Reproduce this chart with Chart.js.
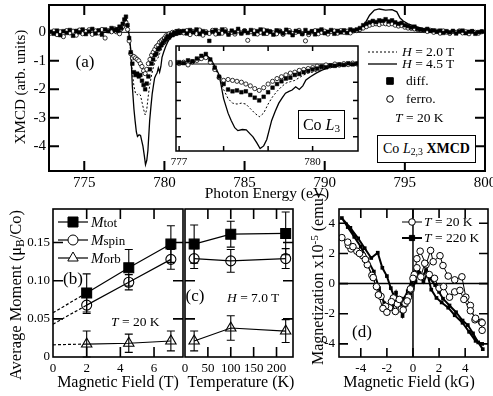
<!DOCTYPE html>
<html>
<head>
<meta charset="utf-8">
<script src="https://cdn.jsdelivr.net/npm/chart.js"></script>
<style>
  html, body { margin: 0; padding: 0; background: #fff; }
  #fig { position: relative; width: 493px; height: 396px; overflow: hidden; font-family: 'Liberation Serif', serif; color: #000; }
  #fig canvas { position: absolute; left: 0; top: 0; }
  .t { position: absolute; white-space: nowrap; line-height: 1; transform: translateY(-50%); }
  .c { transform: translate(-50%, -50%); }
  .r { transform: translate(-50%, -50%) rotate(-90deg); }
  .box { position: absolute; box-sizing: border-box; border: 1.5px solid #000; background: #fff;
         display: flex; align-items: center; justify-content: center; white-space: nowrap; line-height: 1; }
  sub, sup { font-size: 70%; line-height: 0; position: relative; vertical-align: baseline; }
  sub { top: 0.3em; }
  sup { top: -0.45em; }
  .s { font-size: 13px; }
</style>
</head>
<body>
<div id="fig">
  <canvas id="c-a" width="493" height="396"></canvas>
  <canvas id="c-inset" width="493" height="396"></canvas>
  <canvas id="c-b" width="493" height="396"></canvas>
  <canvas id="c-c" width="493" height="396"></canvas>
  <canvas id="c-d" width="493" height="396"></canvas>

  <!-- panel (a) -->
  <div class="t r" style="left:20px;top:87px;font-size:15px">XMCD (arb. units)</div>
  <div class="t c" style="left:267px;top:193px;font-size:15.5px">Photon Energy (eV)</div>
  <div class="t c" style="left:85px;top:61px;font-size:17px">(a)</div>
  <div class="t" style="left:402px;top:52px;font-size:13.5px"><i>H</i> = 2.0 T</div>
  <div class="t" style="left:402px;top:64px;font-size:13.5px"><i>H</i> = 4.5 T</div>
  <div class="t" style="left:406px;top:81px;font-size:13.5px">diff.</div>
  <div class="t" style="left:406px;top:99px;font-size:13.5px">ferro.</div>
  <div class="t" style="left:395px;top:118px;font-size:13.5px"><i>T</i> = 20 K</div>
  <div class="box" style="left:377px;top:135px;width:99px;height:28px;font-size:14px">Co&nbsp;<i>L</i><sub>2,3</sub>&nbsp;<b>XMCD</b></div>
  <div class="box" style="left:298px;top:110px;width:47px;height:29px;font-size:16px">Co&nbsp;<i>L</i><sub>3</sub></div>

  <!-- panel (b) -->
  <div class="t r" style="left:16px;top:295px;font-size:16.5px">Average Moment (μ<sub>B</sub>/Co)</div>
  <div class="t c" style="left:118px;top:382px;font-size:16px">Magnetic Field (T)</div>
  <div class="t c" style="left:73px;top:278px;font-size:17px">(b)</div>
  <div class="t" style="left:91px;top:222px;font-size:15px"><i>M</i><span class="s">tot</span></div>
  <div class="t" style="left:91px;top:240px;font-size:15px"><i>M</i><span class="s">spin</span></div>
  <div class="t" style="left:91px;top:258px;font-size:15px"><i>M</i><span class="s">orb</span></div>
  <div class="t" style="left:111px;top:322px;font-size:13.5px"><i>T</i> = 20 K</div>

  <!-- panel (c) -->
  <div class="t c" style="left:241px;top:382px;font-size:16px">Temperature (K)</div>
  <div class="t c" style="left:195px;top:295px;font-size:17px">(c)</div>
  <div class="t" style="left:227px;top:298px;font-size:13.5px"><i>H</i> = 7.0 T</div>

  <!-- panel (d) -->
  <div class="t r" style="left:318px;top:279px;font-size:16px">Magnetization x10<sup>-5</sup> (emu)</div>
  <div class="t c" style="left:409px;top:382px;font-size:16px">Magnetic Field (kG)</div>
  <div class="t c" style="left:362px;top:331px;font-size:17px">(d)</div>
  <div class="t" style="left:424px;top:222px;font-size:13.5px"><i>T</i> = 20 K</div>
  <div class="t" style="left:424px;top:238px;font-size:13.5px"><i>T</i> = 220 K</div>
</div>

<script>
// ── Panel (a): XMCD spectra ──────────────────────────────────────
const solidE = [772.8, 774, 775, 776, 776.5, 777, 777.3, 777.5, 777.6, 777.7, 777.8, 777.9, 778.0, 778.1, 778.17,
  778.25, 778.32, 778.42, 778.51, 778.6, 778.66, 778.75, 778.82, 778.9, 778.97, 779.08, 779.16, 779.24, 779.32,
  779.39, 779.47, 779.54, 779.62, 779.7, 779.78, 779.85, 779.95, 780.08, 780.2, 780.31, 780.45, 780.62, 780.8,
  781.0, 781.5, 782, 784, 786, 788, 790, 791, 791.8, 792.2, 792.5, 792.8, 793.1, 793.4, 793.8, 794.2, 794.5,
  794.7, 794.9, 795.2, 795.6, 796.0, 796.5, 797, 798, 799, 800];
const solidV = [0, 0, 0, 0, 0, 0, 0.05, 0.35, 0.5, 0.3, -0.1, -0.6, -1.9, -2.7, -3.1,
  -3.5, -3.66, -3.6, -3.62, -3.85, -4.0, -4.35, -4.65, -4.5, -4.15, -3.1, -2.6, -2.15, -1.85,
  -1.6, -1.5, -1.43, -1.25, -1.4, -1.2, -0.88, -0.7, -0.5, -0.35, -0.24, -0.15, -0.1, -0.07,
  -0.05, -0.02, 0, 0, 0, 0, 0, 0.02, 0.05, 0.12, 0.3, 0.6, 0.78, 0.82, 0.78, 0.8, 0.72,
  0.5, 0.4, 0.3, 0.22, 0.15, 0.08, 0.04, 0.01, 0, 0];

const dashE = [772.8, 777, 777.3, 777.5, 777.6, 777.7, 777.8, 777.9, 778.0, 778.1, 778.2, 778.3, 778.4, 778.5,
  778.6, 778.7, 778.8, 778.9, 779.0, 779.1, 779.2, 779.3, 779.4, 779.5, 779.6, 779.7, 779.8, 779.9, 780.0,
  780.2, 780.4, 780.6, 780.8, 781, 782, 790, 791.5, 792.2, 792.6, 793.0, 793.5, 794.0, 794.5, 795.0, 795.5,
  796, 797, 798, 800];
const dashV = [0, 0, 0.03, 0.25, 0.35, 0.2, -0.2, -0.7, -1.4, -1.9, -2.15, -2.2, -2.15, -2.2,
  -2.45, -2.7, -2.9, -2.7, -2.2, -1.8, -1.5, -1.25, -1.05, -0.97, -0.9, -0.75, -0.6, -0.5, -0.45,
  -0.3, -0.2, -0.12, -0.08, -0.05, 0, 0, 0.03, 0.1, 0.2, 0.33, 0.38, 0.37, 0.33, 0.25, 0.17,
  0.1, 0.04, 0, 0];

const ePre = [772.9, 773.1, 773.3, 773.5, 773.7, 773.9, 774.1, 774.3, 774.5, 774.7, 774.9, 775.1, 775.3,
  775.5, 775.7, 775.9, 776.1, 776.3, 776.5, 776.7, 776.9];
const eEdge = [777.0, 777.1, 777.2, 777.3, 777.4, 777.5, 777.6, 777.7, 777.8, 777.9, 778.0, 778.1, 778.2,
  778.3, 778.4, 778.5, 778.6, 778.7, 778.8, 778.9, 779.0, 779.1, 779.2, 779.3, 779.4, 779.5, 779.6, 779.7,
  779.8, 779.9, 780.0, 780.1, 780.2, 780.3, 780.4, 780.5, 780.6, 780.7, 780.8, 780.9, 781.0];
const ePost = [781.2, 781.4, 781.6, 781.8, 782.0, 782.2, 782.4, 782.6, 782.8, 783.0,
  783.2, 783.4, 783.6, 783.8, 784.0, 784.2, 784.4, 784.6, 784.8, 785.0,
  785.2, 785.4, 785.6, 785.8, 786.0, 786.2, 786.4, 786.6, 786.8, 787.0,
  787.2, 787.4, 787.6, 787.8, 788.0, 788.2, 788.4, 788.6, 788.8, 789.0,
  789.2, 789.4, 789.6, 789.8, 790.0, 790.2, 790.4, 790.6, 790.8, 791.0,
  791.2, 791.4, 791.6, 791.8, 792.0, 792.2, 792.4, 792.6, 792.8, 793.0,
  793.2, 793.4, 793.6, 793.8, 794.0, 794.2, 794.4, 794.6, 794.8, 795.0,
  795.2, 795.4, 795.6, 795.8, 796.0, 796.2, 796.4, 796.6, 796.8, 797.0,
  797.2, 797.4, 797.6, 797.8, 798.0, 798.2, 798.4, 798.6, 798.8, 799.0,
  799.2, 799.4, 799.6, 799.8];

const diffPre = [0.02, -0.05, 0.06, -0.1, 0.04, -0.02, 0.08, -0.12, 0.05, 0.0, 0.1, -0.06, 0.03, 0.12,
  -0.04, 0.07, -0.08, 0.1, 0.04, 0.15, 0.08];
const diffEdge = [0.1, 0.05, 0.2, 0.15, 0.3, 0.45, 0.55, 0.25, -0.2, -0.7, -1.1, -1.4, -1.5, -1.45, -1.55,
  -1.5, -1.7, -1.85, -2.0, -1.8, -1.55, -1.3, -1.1, -0.95, -0.8, -0.75, -0.6, -0.55, -0.45, -0.38, -0.3,
  -0.25, -0.15, -0.18, -0.08, -0.1, -0.02, -0.05, 0.04, -0.02, 0.03];
const diffPost = [0.05, -0.04, 0.08, 0.0, 0.1, -0.06, 0.04, -0.02, -0.3, 0.02,
  0.08, -0.05, 0.1, 0.03, -0.08, 0.06, 0.0, 0.12, -0.04, 0.05,
  -0.02, 0.08, -0.06, 0.04, 0.1, -0.05, 0.06, 0.02, -0.08, 0.07,
  0.03, -0.04, 0.09, 0.0, -0.1, 0.05, 0.02, -0.06, 0.08, -0.02,
  0.04, -0.07, 0.06, 0.1, -0.03, 0.02, 0.08, -0.05, 0.05, 0.0,
  0.07, -0.02, 0.1, 0.06, 0.1, 0.15, 0.25, 0.3, 0.35, 0.4,
  0.36, 0.42, 0.4, 0.46, 0.38, 0.42, 0.35, 0.3, 0.33, 0.25,
  0.22, 0.17, 0.2, 0.12, 0.1, 0.08, 0.12, 0.05, 0.07, 0.02,
  0.06, -0.02, 0.04, 0.0, 0.05, -0.04, 0.03, 0.06, -0.03, 0.02,
  0.04, -0.05, 0.01, 0.03];

const ferroPre = [-0.03, 0.05, -0.08, 0.02, -0.15, 0.06, -0.02, 0.04, -0.1, 0.08, -0.05, 0.03, 0.09,
  -0.07, 0.05, -0.02, 0.1, -0.2, 0.06, 0.02, 0.12];
const ferroEdge = [0.02, 0.1, -0.05, 0.12, 0.2, 0.3, 0.35, 0.1, -0.3, -0.75, -0.9, -0.85, -0.9, -0.95, -1.0,
  -1.1, -1.2, -1.35, -1.45, -1.3, -1.1, -0.95, -0.8, -0.7, -0.6, -0.5, -0.45, -0.35, -0.3, -0.25, -0.2,
  -0.12, -0.15, -0.05, -0.1, 0.0, -0.06, 0.02, -0.03, 0.05, 0.0];
const ferroPost = [-0.02, 0.06, -0.08, 0.03, -0.05, 0.08, -0.1, 0.02, -0.04, 0.07,
  -0.06, 0.02, -0.03, 0.09, -0.05, 0.0, -0.06, 0.05, -0.02, 0.06,
  -0.28, 0.02, 0.05, -0.06, 0.0, 0.08, -0.04, 0.03, -0.02, -0.05,
  0.05, -0.07, 0.02, 0.06, -0.04, 0.0, 0.07, -0.05, -0.3, -0.08,
  0.02, 0.06, -0.05, 0.0, 0.04, -0.06, 0.03, 0.05, -0.03, 0.06,
  0.0, 0.04, -0.02, 0.05, 0.06, 0.1, 0.15, 0.2, 0.25, 0.28,
  0.3, 0.27, 0.32, 0.3, 0.28, 0.3, 0.25, 0.22, 0.24, 0.18,
  0.15, 0.14, 0.12, 0.1, 0.08, 0.06, 0.03, 0.07, 0.0, 0.04,
  -0.03, 0.05, 0.01, -0.04, 0.03, 0.0, 0.05, -0.02, 0.02, -0.05,
  0.03, 0.0, -0.03, 0.02];

const ticksA_x = [775, 780, 785, 790, 795, 800];
const labelsA_x = ['775', '780', '785', '790', '795', '800'];
const ticksA_y = [-4, -3, -2, -1, 0];
const labelsA_y = ['-4', '-3', '-2', '-1', '0'];
const ticksIn_x = [777, 778, 779, 780, 781];
const labelsIn_x = ['777', '', '', '780', ''];
const ticksIn_y = [-4, -3, -2, -1, 0];
const labelsIn_y = ['', '', '', '', '0'];

// ── Panel (b): moments vs field ─────────────────────────────────
const fieldB = [2, 4.5, 7];
const totB = [0.084, 0.117, 0.148];
const totErrB = [0.025, 0.024, 0.024];
const spinB = [0.068, 0.098, 0.128];
const spinErrB = [0.011, 0.01, 0.013];
const orbB = [0.017, 0.018, 0.021];
const orbErrB = [0.017, 0.012, 0.013];
const extrapField = [0, 2];
const totExtrap = [0.058, 0.084];
const spinExtrap = [0.043, 0.068];
const orbExtrap = [0.016, 0.017];
const ticksB_x = [0, 2, 4, 6];
const labelsB_x = ['0', '2', '4', '6'];
const ticksM = [0, 0.05, 0.1, 0.15];
const labelsM = ['0', '0.05', '0.10', '0.15'];

// ── Panel (c): moments vs temperature ───────────────────────────
const tempC = [20, 100, 220];
const totC = [0.148, 0.161, 0.162];
const totErrC = [0.025, 0.017, 0.028];
const spinC = [0.129, 0.126, 0.129];
const spinErrC = [0.013, 0.015, 0.013];
const orbC = [0.021, 0.038, 0.034];
const orbErrC = [0.013, 0.016, 0.015];
const ticksC_x = [0, 50, 100, 150, 200];
const labelsC_x = ['0', '50', '100', '150', '200'];

// ── Panel (d): magnetization loops ──────────────────────────────
const fieldD20 = [5.3, 5.25, 4.75, 4.4, 4.05, 3.75, 3.2, 2.7, 2.3, 2.07, 1.55, 1.35, 1.0, 0.55, 0.3, 0.1,
  -0.15, -0.35, -0.6, -0.9, -1.2, -1.5, -1.8, -2.1, -2.45, -2.8, -3.15, -3.5, -3.85, -4.3, -4.75, -4.95, -5.45,
  -5.0, -4.6, -4.1, -3.65, -3.05, -2.65, -2.3, -2.0, -1.65, -1.35, -1.05, -0.75, -0.45, -0.2, 0.0, 0.3,
  0.6, 0.9, 1.25, 1.65, 2.0, 2.35, 2.8, 3.2, 3.6, 3.9, 4.4, 4.8, 5.3];
const magD20 = [-3.1, -2.55, -2.4, -1.45, -0.9, 0.45, 0.25, 0.5, 1.2, 1.85, 1.45, 2.2, 1.25, 2.15, 1.65, 0.6,
  -0.4, -0.9, -1.3, -1.7, -1.35, -0.95, -1.6, -1.5, -0.85, -0.2, 0.55, 1.25, 1.85, 2.15, 2.3, 2.55, 3.05,
  2.75, 2.45, 2.0, 1.6, 0.4, -0.75, -1.65, -1.9, -1.2, -1.85, -1.05, -1.75, -1.15, -0.35, 0.35, 1.05,
  0.45, 1.35, 0.6, 0.35, -0.3, -0.2, -0.9, -0.55, -0.45, -1.05, -1.8, -2.3, -2.6];
const fieldD220 = [5.35, 5.0, 4.6, 4.2, 3.8, 3.3, 2.8, 2.3, 2.0, 1.7, 1.3, 1.0, 0.7, 0.4, 0.2, 0.0, -0.2,
  -0.5, -0.8, -1.1, -1.4, -1.7, -2.0, -2.35, -2.7, -3.2, -3.7, -4.2, -4.8, -5.45,
  -5.0, -4.5, -4.0, -3.5, -3.0, -2.6, -2.2, -1.9, -1.6, -1.3, -1.0, -0.7, -0.4, -0.1, 0.2, 0.5, 0.8,
  1.1, 1.4, 1.8, 2.2, 2.7, 3.2, 3.8, 4.3, 4.8, 5.3];
const magD220 = [-4.35, -3.9, -3.3, -2.75, -2.45, -1.9, -1.45, -1.0, -0.55, -0.1, 0.35, 0.9, 0.4, 1.0, 0.15, -0.25, -0.8,
  -1.4, -2.15, -1.3, -0.95, -0.3, 0.5, 1.05, 2.05, 1.7, 2.35, 3.0, 3.7, 4.35,
  3.75, 3.1, 2.45, 1.6, 0.8, -0.3, -1.3, -1.95, -1.5, -0.6, -1.65, -1.0, -0.5, 0.2, 0.95, 0.7, 0.1,
  0.65, -0.4, -0.95, -1.25, -1.6, -2.1, -2.6, -3.2, -3.8, -4.0];
const ticksD = [-4, -2, 0, 2, 4];
const labelsD = ['-4', '-2', '0', '2', '4'];

// ── Shared helpers ──────────────────────────────────────────────
const W = 493, H = 396;
const SERIF = "'Liberation Serif', serif";

function xy(xs, ys) {
  return xs.map((x, i) => ({ x, y: ys[i] }));
}

function padFor(box, yw, xh) {
  return { left: box[0] - yw, top: box[1], right: W - box[2], bottom: H - box[3] - xh };
}

function axis(pos, min, max, vals, labels, size, fit, pad) {
  return {
    type: 'linear', position: pos, min, max,
    grid: { display: false, drawTicks: false },
    border: { display: false },
    ticks: {
      display: !!labels, autoSkip: false, maxRotation: 0, minRotation: 0,
      padding: pad, color: '#000', font: { family: SERIF, size },
      callback: (v, i) => (labels ? labels[i] : ''),
    },
    afterBuildTicks: (s) => { s.ticks = vals.map((v) => ({ value: v })); },
    afterFit: (s) => {
      if (s.isHorizontal()) { s.height = fit; s.paddingLeft = 0; s.paddingRight = 0; }
      else { s.width = fit; s.paddingTop = 0; s.paddingBottom = 0; }
    },
  };
}

function mark(c, style, x, y, r, fill) {
  c.beginPath();
  if (style === 'rect') c.rect(x - r, y - r, 2 * r, 2 * r);
  else if (style === 'triangle') {
    c.moveTo(x, y - r);
    c.lineTo(x + r * 0.866, y + r * 0.5);
    c.lineTo(x - r * 0.866, y + r * 0.5);
    c.closePath();
  } else c.arc(x, y, r, 0, Math.PI * 2);
  c.fillStyle = fill;
  c.fill();
  c.stroke();
}

// frame, inward ticks, zero lines, error bars, legend symbols
function framePlugin(o) {
  return {
    id: 'frame',
    beforeDraw(chart) {
      if (!o.fill) return;
      const a = chart.chartArea, c = chart.ctx;
      c.save();
      c.fillStyle = '#fff';
      c.fillRect(a.left, a.top, a.right - a.left, a.bottom - a.top);
      c.restore();
    },
    beforeDatasetsDraw(chart) {
      const { ctx: c, chartArea: a, scales: { x, y } } = chart;
      c.save();
      c.strokeStyle = '#000';
      c.lineWidth = o.zeroW || 1;
      if (o.zeroY) {
        const py = y.getPixelForValue(0);
        c.beginPath(); c.moveTo(a.left, py); c.lineTo(a.right, py); c.stroke();
      }
      if (o.zeroX) {
        const px = x.getPixelForValue(0);
        c.beginPath(); c.moveTo(px, a.top); c.lineTo(px, a.bottom); c.stroke();
      }
      c.lineWidth = 1.1;
      chart.data.datasets.forEach((ds) => {
        if (!ds.errors) return;
        ds.data.forEach((p, j) => {
          const px = x.getPixelForValue(p.x);
          const lo = y.getPixelForValue(p.y - ds.errors[j]);
          const hi = y.getPixelForValue(p.y + ds.errors[j]);
          c.beginPath();
          c.moveTo(px, lo); c.lineTo(px, hi);
          c.moveTo(px - 4, lo); c.lineTo(px + 4, lo);
          c.moveTo(px - 4, hi); c.lineTo(px + 4, hi);
          c.stroke();
        });
      });
      c.restore();
    },
    afterDraw(chart) {
      const { ctx: c, chartArea: a, scales: { x, y } } = chart;
      const L = o.tick;
      c.save();
      c.strokeStyle = '#000';
      c.lineWidth = o.lw;
      c.strokeRect(a.left, a.top, a.right - a.left, a.bottom - a.top);
      c.beginPath();
      x.ticks.forEach((t) => {
        const px = x.getPixelForValue(t.value);
        if (px < a.left + 1 || px > a.right - 1) return;
        c.moveTo(px, a.bottom); c.lineTo(px, a.bottom - L);
        c.moveTo(px, a.top); c.lineTo(px, a.top + L);
      });
      y.ticks.forEach((t) => {
        const py = y.getPixelForValue(t.value);
        if (py < a.top + 1 || py > a.bottom - 1) return;
        c.moveTo(a.left, py); c.lineTo(a.left + L, py);
        c.moveTo(a.right, py); c.lineTo(a.right - L, py);
      });
      c.stroke();
      (o.legend || []).forEach((g) => {
        c.lineWidth = g.w;
        c.setLineDash(g.dash || []);
        if (g.x2 > g.x1) {
          c.beginPath(); c.moveTo(g.x1, g.y); c.lineTo(g.x2, g.y); c.stroke();
        }
        c.setLineDash([]);
        c.lineWidth = 1;
        if (g.mark) mark(c, g.mark, g.mx, g.y, g.r, g.fill);
      });
      c.restore();
    },
  };
}

function makeChart(id, cfg) {
  return new Chart(document.getElementById(id), {
    type: 'scatter',
    data: { datasets: cfg.datasets },
    options: {
      responsive: false, animation: false, devicePixelRatio: 1, events: [],
      layout: { padding: cfg.padding },
      plugins: { legend: { display: false }, tooltip: { enabled: false } },
      scales: { x: cfg.x, y: cfg.y },
    },
    plugins: [framePlugin(cfg.frame)],
  });
}

function lineSet(data, w, dash) {
  return { data, showLine: true, borderColor: '#000', borderWidth: w, borderDash: dash || [], pointRadius: 0, tension: 0 };
}

function pointSet(data, style, r, fill, bw) {
  return { data, showLine: false, pointStyle: style, pointRadius: r, pointBackgroundColor: fill,
    pointBorderColor: '#000', pointBorderWidth: bw, borderColor: '#000' };
}

function momentSet(xs, ys, errs, style, r, fill) {
  return { data: xy(xs, ys), errors: errs, showLine: true, borderColor: '#000', borderWidth: 1.2, tension: 0,
    pointStyle: style, pointRadius: r, pointBackgroundColor: fill, pointBorderColor: '#000', pointBorderWidth: 1.1 };
}

// ── Build (a) and inset ─────────────────────────────────────────
const eAll = ePre.concat(eEdge, ePost);
const diffAll = diffPre.concat(diffEdge, diffPost);
const ferroAll = ferroPre.concat(ferroEdge, ferroPost);

function spectraSets() {
  return [
    pointSet(xy(eAll, diffAll), 'rect', 2.6, '#000', 0.5),
    pointSet(xy(eAll, ferroAll), 'circle', 2.1, '#fff', 0.8),
    lineSet(xy(dashE, dashV), 1, [2, 2]),
    lineSet(xy(solidE, solidV), 1.3),
  ];
}

const boxA = [49, 5, 485, 171];
makeChart('c-a', {
  padding: padFor(boxA, 49, 29),
  x: axis('bottom', 772.8, 800, ticksA_x, labelsA_x, 15, 29, 3),
  y: axis('left', -4.87, 0.96, ticksA_y, labelsA_y, 15, 49, 3),
  datasets: spectraSets(),
  frame: {
    lw: 2, tick: 10, zeroY: true, zeroW: 1,
    legend: [
      { x1: 368, x2: 397, y: 52, w: 1, dash: [2, 2] },
      { x1: 368, x2: 397, y: 64, w: 1.3 },
      { x1: 0, x2: 0, y: 81, mark: 'rect', mx: 390, r: 3.3, fill: '#000' },
      { x1: 0, x2: 0, y: 99, mark: 'circle', mx: 390, r: 3.3, fill: '#fff' },
    ],
  },
});

const boxIn = [176, 46, 358, 151];
makeChart('c-inset', {
  padding: padFor(boxIn, 10, 15),
  x: axis('bottom', 776.93, 781.02, ticksIn_x, labelsIn_x, 11, 15, 5),
  y: axis('left', -4.78, 0.99, ticksIn_y, labelsIn_y, 10, 10, 3),
  datasets: spectraSets(),
  frame: { lw: 1.5, tick: 5, zeroY: true, zeroW: 1, fill: true },
});

// ── Build (b) ───────────────────────────────────────────────────
const boxB = [53, 209, 183, 357];
makeChart('c-b', {
  padding: padFor(boxB, 53, 20),
  x: axis('bottom', 0, 7.72, ticksB_x, labelsB_x, 13, 20, 4),
  y: axis('left', 0, 0.194, ticksM, labelsM, 13, 53, 3),
  datasets: [
    momentSet(fieldB, totB, totErrB, 'rect', 7, '#000'),
    momentSet(fieldB, spinB, spinErrB, 'circle', 5, 'rgba(0,0,0,0)'),
    momentSet(fieldB, orbB, orbErrB, 'triangle', 6, 'rgba(0,0,0,0)'),
    lineSet(xy(extrapField, totExtrap), 1.2, [3, 2]),
    lineSet(xy(extrapField, spinExtrap), 1.2, [3, 2]),
    lineSet(xy(extrapField, orbExtrap), 1.2, [3, 2]),
  ],
  frame: {
    lw: 1.6, tick: 10,
    legend: [
      { x1: 58, x2: 88, y: 222, w: 1.2, mark: 'rect', mx: 73, r: 5, fill: '#000' },
      { x1: 58, x2: 88, y: 240, w: 1.2, mark: 'circle', mx: 73, r: 5, fill: '#fff' },
      { x1: 58, x2: 88, y: 258, w: 1.2, mark: 'triangle', mx: 73, r: 6, fill: '#fff' },
    ],
  },
});

// ── Build (c) ───────────────────────────────────────────────────
const boxC = [185, 209, 293, 357];
makeChart('c-c', {
  padding: padFor(boxC, 5, 20),
  x: axis('bottom', 0, 236, ticksC_x, labelsC_x, 13, 20, 4),
  y: axis('left', 0, 0.194, ticksM, null, 13, 5, 3),
  datasets: [
    momentSet(tempC, totC, totErrC, 'rect', 7, '#000'),
    momentSet(tempC, spinC, spinErrC, 'circle', 5, 'rgba(0,0,0,0)'),
    momentSet(tempC, orbC, orbErrC, 'triangle', 6, 'rgba(0,0,0,0)'),
  ],
  frame: { lw: 1.6, tick: 10 },
});

// ── Build (d) ───────────────────────────────────────────────────
const boxD = [339, 209, 488, 357];
makeChart('c-d', {
  padding: padFor(boxD, 30, 20),
  x: axis('bottom', -5.67, 5.75, ticksD, labelsD, 13, 20, 4),
  y: axis('left', -4.87, 4.95, ticksD, labelsD, 13, 30, 4),
  datasets: [
    { data: xy(fieldD20, magD20), showLine: true, borderColor: '#000', borderWidth: 1, tension: 0,
      pointStyle: 'circle', pointRadius: 3.3, pointBackgroundColor: '#fff', pointBorderColor: '#000', pointBorderWidth: 1 },
    { data: xy(fieldD220, magD220), showLine: true, borderColor: '#000', borderWidth: 2, tension: 0,
      pointStyle: 'rect', pointRadius: 2.6, pointBackgroundColor: '#000', pointBorderColor: '#000', pointBorderWidth: 0 },
  ],
  frame: {
    lw: 1.6, tick: 9, zeroX: true, zeroY: true, zeroW: 1.5,
    legend: [
      { x1: 402, x2: 422, y: 222, w: 1, mark: 'circle', mx: 412, r: 3.3, fill: '#fff' },
      { x1: 402, x2: 422, y: 238, w: 2, mark: 'rect', mx: 412, r: 2.6, fill: '#000' },
    ],
  },
});
</script>
</body>
</html>
